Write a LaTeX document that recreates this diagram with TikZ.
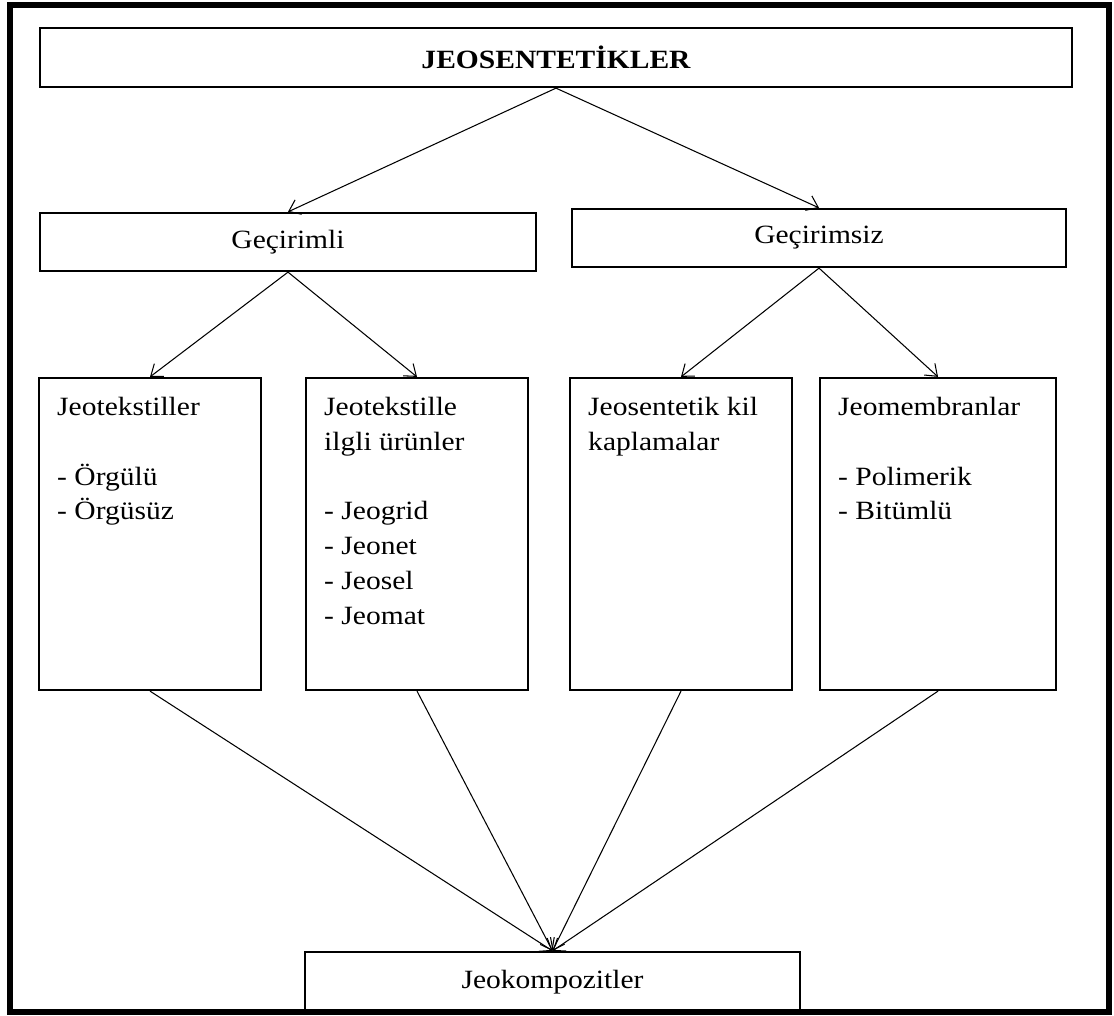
\documentclass[tikz,border=0pt]{standalone}
\usepackage{fontspec}
\setmainfont{Liberation Serif}[FakeStretch=1.12]
\usetikzlibrary{arrows.meta, positioning}

\begin{document}
\begin{tikzpicture}[
    x=0.02cm, y=-0.02cm,
    headbox/.style={rectangle, draw, line width=1.3pt, minimum height=1.16cm, font=\fontsize{15}{18}\selectfont},
    tallbox/.style={rectangle, draw, line width=1.3pt, minimum width=4.44cm, minimum height=6.24cm},
    boxtext/.style={anchor=north west, inner sep=0pt, align=left, font=\fontsize{15}{19.8}\selectfont},
    link/.style={-{Straight Barb[length=6pt,width=9pt]}, line width=0.6pt}
]
\useasboundingbox (0,0) rectangle (1114,1016);
\fill[white] (0,0) rectangle (1114,1016);

\node[headbox, minimum width=20.64cm, minimum height=1.18cm, font=\fontsize{15}{18}\selectfont\bfseries] (title) at (556,57.5) {JEOSENTETİKLER};
\node[headbox, minimum width=9.92cm] (gecirimli) at (288,242) {Geçirimli};
\node[headbox, minimum width=9.88cm] (gecirimsiz) at (819,238) {Geçirimsiz};

% alt kutular
\node[tallbox] (jtek) at (150,534) {};
\node[tallbox] (jilgi) at (417,534) {};
\node[tallbox] (jkil) at (681,534) {};
\node[tallbox, minimum width=4.72cm] (jmem) at (938,534) {};

\node[boxtext] (jtektxt) at ([shift={(19,20)}]jtek.north west) {Jeotekstiller\\[19.8pt]- Örgülü\\- Örgüsüz};
\node[boxtext] (jilgitxt) at ([shift={(19,20)}]jilgi.north west) {Jeotekstille\\ilgli ürünler\\[19.8pt]- Jeogrid\\- Jeonet\\- Jeosel\\- Jeomat};
\node[boxtext] (jkiltxt) at ([shift={(19,20)}]jkil.north west) {Jeosentetik kil\\kaplamalar};
\node[boxtext] (jmemtxt) at ([shift={(19,20)}]jmem.north west) {Jeomembranlar\\[19.8pt]- Polimerik\\- Bitümlü};

\node[headbox, minimum width=9.9cm, minimum height=1.2cm] (jkomp) at (552.5,982) {Jeokompozitler};

\draw[link] (title.south) -- (gecirimli.north);
\draw[link] (title.south) -- (gecirimsiz.north);
\draw[link] (gecirimli.south) -- (jtek.north);
\draw[link] (gecirimli.south) -- (jilgi.north);
\draw[link] (gecirimsiz.south) -- (jkil.north);
\draw[link] (gecirimsiz.south) -- (jmem.north);
\draw[link] (jtek.south) -- (jkomp.north);
\draw[link] (jilgi.south) -- (jkomp.north);
\draw[link] (jkil.south) -- (jkomp.north);
\draw[link] (jmem.south) -- (jkomp.north);

% dis cerceve
\draw[line width=0.13cm] (10,5) rectangle (1109,1012);
\end{tikzpicture}
\end{document}
